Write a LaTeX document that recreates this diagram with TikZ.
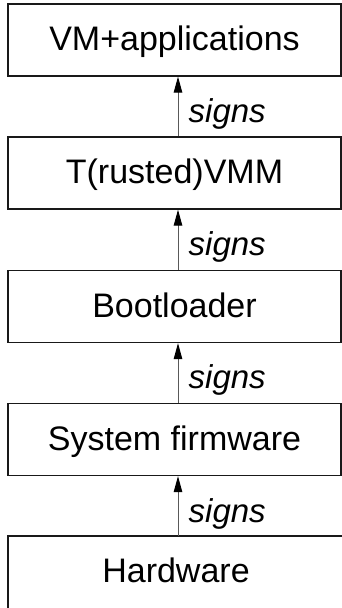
\documentclass[tikz,border=0pt]{standalone}
\usepackage{fontspec}
\setmainfont{Liberation Sans}
\usetikzlibrary{arrows.meta}
\tikzset{
  layer/.style={draw=black!90, line width=1.3pt, minimum width=333pt, minimum height=72pt,
    inner sep=0pt, text height=21pt, text depth=0pt, font=\fontsize{34}{40}\selectfont},
  signarrow/.style={draw=black!65, line width=1pt, -{Triangle[length=16pt,width=8.5pt,fill=black,color=black]}},
  signlabel/.style={anchor=base west, inner sep=0pt, font=\fontsize{33}{38}\selectfont\itshape}
}
\begin{document}
\begin{tikzpicture}[x=1pt,y=-1pt]
\useasboundingbox (0,0) rectangle (342,608);
\clip (0,0) rectangle (342,608);
\node[layer] (vm) at (174.5,40) {VM+applications};
\node[layer] (vmm) at (174.5,173) {T(rusted)VMM};
\node[layer] (boot) at (174.5,306.5) {Bootloader};
\node[layer] (fw) at (174.5,439.5) {System firmware};
\node[layer, minimum width=342pt, minimum height=90pt] (hw) at (179,581) {};
\node[font=\fontsize{34}{40}\selectfont, text height=21pt, text depth=0pt, inner sep=0pt] (hwt) at (176,572) {Hardware};
\foreach \lo/\hi in {vmm/vm, boot/vmm, fw/boot} {
  \draw[signarrow] ([xshift=3.5pt]\lo.north) -- ([xshift=3.5pt]\hi.south);
  \node[signlabel] (l\lo) at ([xshift=14pt,yshift=14pt]\lo.north) {signs};
}
\coordinate (hwtop) at (178,536);
\draw[signarrow] (hwtop) -- ([xshift=3.5pt]fw.south);
\node[signlabel] (lhw) at ([yshift=14pt,xshift=10.5pt]hwtop) {signs};
\end{tikzpicture}
\end{document}
